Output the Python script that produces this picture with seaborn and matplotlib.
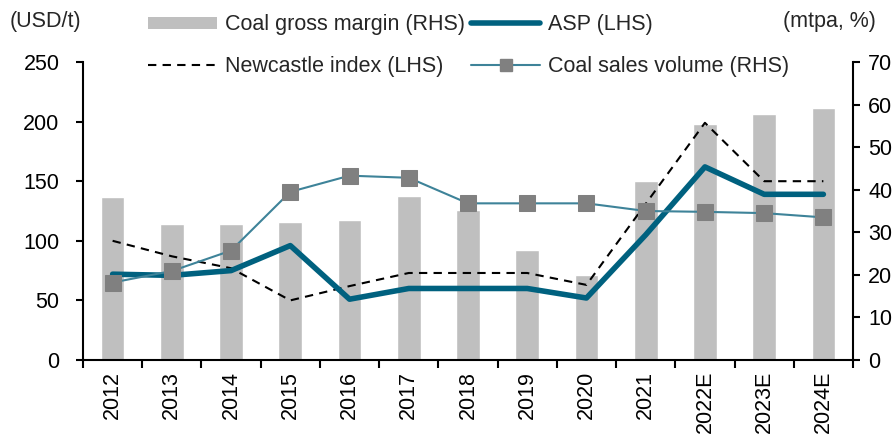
import matplotlib
matplotlib.use("Agg")
import matplotlib.pyplot as plt
import seaborn as sns
import pandas as pd
import numpy as np
from matplotlib.lines import Line2D
from matplotlib.patches import Patch

years = ["2012", "2013", "2014", "2015", "2016", "2017", "2018", "2019",
         "2020", "2021", "2022E", "2023E", "2024E"]
gross_margin = [38.3, 32.0, 32.0, 32.4, 32.9, 38.6, 35.2, 25.8, 20.0, 42.0, 55.4, 57.7, 59.1]
asp = [72, 71, 75, 96, 51, 60, 60, 60, 52, 105, 162, 139, 139]
newcastle = [100, 87, 77, 50, 62, 73, 73, 73, 63, 131, 199, 150, 150]
volume = [18.2, 20.9, 25.7, 39.5, 43.3, 42.8, 36.8, 36.8, 36.8, 35.0, 34.8, 34.5, 33.5]

df = pd.DataFrame({"year": years, "gm": gross_margin, "asp": asp,
                   "nc": newcastle, "vol": volume})

FS = 15.5
sns.set_theme(style="white")
plt.rcParams["font.family"] = ["Liberation Sans", "DejaVu Sans"]
plt.rcParams["font.size"] = FS

fig = plt.figure(figsize=(8.96, 4.36), dpi=100)
rect = [83 / 896, 76 / 436, 770 / 896, 298 / 436]
axb = fig.add_axes(rect)          # bars (RHS scale)
ax = axb.twinx()                  # LHS lines
axv = axb.twinx()                 # volume (RHS scale)

bar_c = "#BFBFBF"
asp_c = "#00617F"
vol_c = "#3E8399"

sns.barplot(data=df, x="year", y="gm", ax=axb, color=bar_c, width=0.4,
            saturation=1, order=years)
sns.lineplot(data=df, x="year", y="nc", ax=ax, color="black", lw=1.5,
             sort=False, linestyle=(0, (4, 3)))
sns.lineplot(data=df, x="year", y="asp", ax=ax, color=asp_c, lw=4,
             sort=False)
sns.lineplot(data=df, x="year", y="vol", ax=axv, color=vol_c, lw=1.5,
             sort=False, marker="s", markersize=11.5, markerfacecolor="#808080",
             markeredgecolor="#808080")

axb.set_zorder(0)
ax.set_zorder(1)
axv.set_zorder(2)
ax.patch.set_visible(False)
axv.patch.set_visible(False)

for a in (axb, ax, axv):
    a.set_xlim(-0.5, 12.5)
    a.set_xlabel("")
    a.set_ylabel("")
    for s in a.spines.values():
        s.set_visible(False)

axb.set_ylim(0, 70)
axv.set_ylim(0, 70)
ax.set_ylim(0, 250)

# left axis
ax.yaxis.tick_left()
ax.yaxis.set_label_position("left")
ax.set_yticks(np.arange(0, 251, 50))
ax.spines["left"].set_visible(True)
ax.spines["left"].set_color("black")
ax.spines["left"].set_linewidth(1.5)
ax.tick_params(axis="y", left=True, right=False, labelleft=True, labelright=False,
               direction="out", length=5, width=1.5, color="black", pad=12,
               labelsize=FS, labelcolor="black")
ax.tick_params(axis="x", bottom=False, labelbottom=False)

# right axis
axb.set_yticks([])
axb.tick_params(axis="y", left=False, labelleft=False)
axv.set_yticks(np.arange(0, 71, 10))
axv.spines["right"].set_visible(True)
axv.spines["right"].set_color("black")
axv.spines["right"].set_linewidth(1.5)
axv.tick_params(axis="y", right=True, left=False, labelright=True, labelleft=False,
                direction="out", length=5, width=1.5, color="black", pad=6,
                labelsize=FS, labelcolor="black")
axv.tick_params(axis="x", bottom=False, labelbottom=False)

# bottom axis
axb.spines["bottom"].set_visible(True)
axb.spines["bottom"].set_color("black")
axb.spines["bottom"].set_linewidth(1.5)
axb.set_xticks(range(len(years)))
axb.set_xticklabels(years, rotation=90)
axb.set_xticks(np.arange(-0.5, 12.6, 1), minor=True)
axb.tick_params(axis="x", which="major", bottom=True, length=0, pad=8,
                labelsize=FS, labelcolor="black")
axb.tick_params(axis="x", which="minor", bottom=True, direction="out",
                length=6, width=1.5, color="black")

# unit labels
fig.text(10 / 896, 1 - 22 / 436, "(USD/t)", fontsize=FS, va="center", ha="left")
fig.text(876 / 896, 1 - 22 / 436, "(mtpa, %)", fontsize=FS, va="center", ha="right")

handles = [
    Patch(facecolor=bar_c, edgecolor="none"),
    Line2D([], [], color="black", lw=1.5, linestyle=(0, (4, 3))),
    Line2D([], [], color=asp_c, lw=4),
    Line2D([], [], color=vol_c, lw=1.5, marker="s", markersize=9,
           markerfacecolor="#808080", markeredgecolor="#808080"),
]
labels = ["Coal gross margin (RHS)", "Newcastle index (LHS)",
          "ASP (LHS)", "Coal sales volume (RHS)"]
fig.legend(handles, labels, ncol=2, loc="upper left",
           bbox_to_anchor=(144 / 896, 1 - 10 / 436), frameon=False,
           fontsize=FS, handlelength=3.2, handleheight=0.5, handletextpad=0.35,
           columnspacing=0.3, labelspacing=0.95, borderaxespad=0, borderpad=0.2)

fig.savefig("out.png", dpi=100)
